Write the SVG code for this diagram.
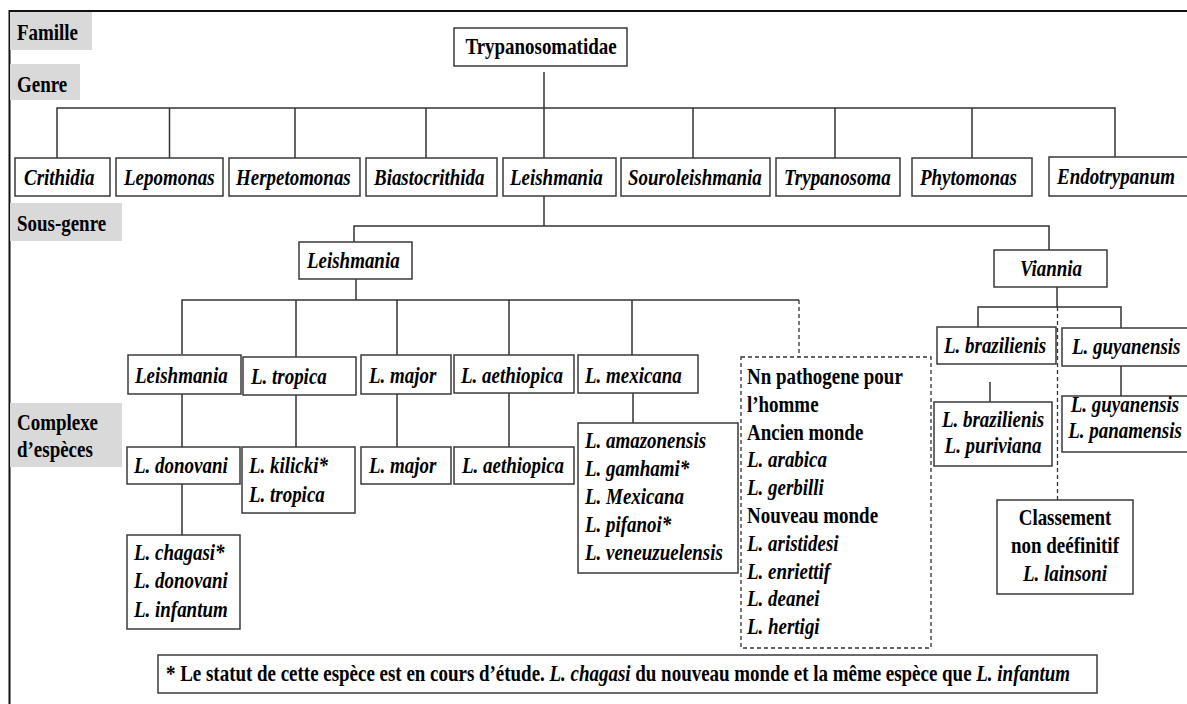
<svg xmlns="http://www.w3.org/2000/svg" width="1187" height="704" viewBox="0 0 1187 704">
<style>
.bg{fill:#fff}
.lbl{fill:#d9d9d9}
.box{fill:#fff;stroke:#3a3a3a;stroke-width:1.5}
.dbox{fill:#fff;stroke:#333;stroke-width:1.3;stroke-dasharray:4 3}
.t{font-family:"Liberation Serif","Times New Roman",serif;font-size:24px;font-weight:bold;fill:#000}
.i{font-style:italic}
.m{text-anchor:middle}
.ln{fill:none;stroke:#333;stroke-width:1.5}
.dl{fill:none;stroke:#333;stroke-width:1.3;stroke-dasharray:4 3}
.frame{fill:none;stroke:#111;stroke-width:2}
</style>
<rect class="bg" x="0" y="0" width="1187" height="704"/>
<path class="frame" d="M9.5 704 V11 H1187"/>

<g id="labels">
<rect class="lbl" x="10" y="12" width="82" height="38"/>
<text class="t" transform="translate(17 40) scale(0.79 1)">Famille</text>
<rect class="lbl" x="10" y="64" width="70" height="36"/>
<text class="t" transform="translate(17 92) scale(0.79 1)">Genre</text>
<rect class="lbl" x="10" y="203" width="112" height="38"/>
<text class="t" transform="translate(17 231) scale(0.79 1)">Sous-genre</text>
<rect class="lbl" x="10" y="403" width="112" height="64"/>
<text class="t" transform="translate(17 430) scale(0.79 1)">Complexe</text>
<text class="t" transform="translate(17 457) scale(0.79 1)">d’espèces</text>
</g>

<g id="connectors">
<path class="ln" d="M544 72 V108"/>
<path class="ln" d="M57 158 V108 H1115 V157"/>
<path class="ln" d="M169.5 108 V158 M295 108 V158 M426 108 V158 M544 108 V158 M693 108 V158 M835 108 V158 M972 108 V158"/>
<path class="ln" d="M544 196 V226"/>
<path class="ln" d="M354 242 V226 H1049 V250"/>
<path class="ln" d="M356 279 V300"/>
<path class="ln" d="M182 354 V300 H799"/>
<path class="ln" d="M296 300 V357 M397 300 V355 M509 300 V355 M632 300 V355"/>
<path class="dl" d="M799 300 V357"/>
<path class="ln" d="M182 394 V447 M296 395 V447 M397 394 V447 M509 393 V447 M633 393 V423"/>
<path class="ln" d="M182 484 V535"/>
<path class="ln" d="M1057 287 V307"/>
<path class="ln" d="M978 327 V307 H1121 V328"/>
<path class="dl" d="M1057.5 307 V500"/>
<path class="ln" d="M990 382 V402"/>
<path class="ln" d="M1121 366 V396"/>
</g>

<g id="trypanosomatidae">
<rect class="box" x="454" y="28" width="173" height="38"/>
<text class="t m" transform="translate(541 54) scale(0.79 1)">Trypanosomatidae</text>
</g>

<g id="crithidia"><rect class="box" x="15" y="158" width="95" height="38"/><text class="t i" transform="translate(24 185) scale(0.79 1)">Crithidia</text></g>
<g id="lepomonas"><rect class="box" x="116" y="158" width="107" height="38"/><text class="t i" transform="translate(124 185) scale(0.79 1)">Lepomonas</text></g>
<g id="herpetomonas"><rect class="box" x="229" y="158" width="131" height="38"/><text class="t i" transform="translate(236 185) scale(0.79 1)">Herpetomonas</text></g>
<g id="biastocrithida"><rect class="box" x="366" y="158" width="131" height="38"/><text class="t i" transform="translate(374 185) scale(0.79 1)">Biastocrithida</text></g>
<g id="leishmania-genre"><rect class="box" x="503" y="158" width="113" height="38"/><text class="t i" transform="translate(510 185) scale(0.79 1)">Leishmania</text></g>
<g id="souroleishmania"><rect class="box" x="621" y="158" width="149" height="38"/><text class="t i" transform="translate(628 185) scale(0.79 1)">Souroleishmania</text></g>
<g id="trypanosoma"><rect class="box" x="776" y="158" width="124" height="38"/><text class="t i" transform="translate(784 185) scale(0.79 1)">Trypanosoma</text></g>
<g id="phytomonas"><rect class="box" x="912" y="158" width="120" height="38"/><text class="t i" transform="translate(920 185) scale(0.79 1)">Phytomonas</text></g>
<g id="endotrypanum"><rect class="box" x="1049" y="157" width="140" height="39"/><text class="t i" transform="translate(1057 184) scale(0.79 1)">Endotrypanum</text></g>

<g id="sg-leishmania"><rect class="box" x="299" y="242" width="113" height="37"/><text class="t i" transform="translate(307 268) scale(0.79 1)">Leishmania</text></g>
<g id="sg-viannia"><rect class="box" x="994" y="250" width="113" height="37"/><text class="t i m" transform="translate(1051 276) scale(0.79 1)">Viannia</text></g>

<g id="c-leishmania"><rect class="box" x="128" y="355" width="113" height="39"/><text class="t i" transform="translate(135 383) scale(0.79 1)">Leishmania</text></g>
<g id="c-tropica"><rect class="box" x="243" y="357" width="113" height="38"/><text class="t i" transform="translate(251 384) scale(0.79 1)">L. tropica</text></g>
<g id="c-major"><rect class="box" x="361" y="355" width="90" height="39"/><text class="t i" transform="translate(369 383) scale(0.79 1)">L. major</text></g>
<g id="c-aethiopica"><rect class="box" x="454" y="355" width="120" height="38"/><text class="t i" transform="translate(461 383) scale(0.79 1)">L. aethiopica</text></g>
<g id="c-mexicana"><rect class="box" x="578" y="355" width="120" height="38"/><text class="t i" transform="translate(585 383) scale(0.79 1)">L. mexicana</text></g>

<g id="s-donovani"><rect class="box" x="127" y="447" width="113" height="37"/><text class="t i" transform="translate(134 473) scale(0.79 1)">L. donovani</text></g>
<g id="s-tropica"><rect class="box" x="242" y="447" width="113" height="66"/><text class="t i" transform="translate(249 473) scale(0.79 1)">L. kilicki*<tspan x="0" y="29">L. tropica</tspan></text></g>
<g id="s-major"><rect class="box" x="361" y="447" width="90" height="37"/><text class="t i" transform="translate(369 473) scale(0.79 1)">L. major</text></g>
<g id="s-aethiopica"><rect class="box" x="454" y="447" width="120" height="37"/><text class="t i" transform="translate(462 473) scale(0.79 1)">L. aethiopica</text></g>
<g id="s-mexicana"><rect class="box" x="578" y="423" width="160" height="150"/><text class="t i" transform="translate(585 448) scale(0.79 1)">L. amazonensis<tspan x="0" y="28">L. gamhami*</tspan><tspan x="0" y="56">L. Mexicana</tspan><tspan x="0" y="84">L. pifanoi*</tspan><tspan x="0" y="112">L. veneuzuelensis</tspan></text></g>
<g id="s-chagasi"><rect class="box" x="127" y="535" width="113" height="94"/><text class="t i" transform="translate(134 560) scale(0.79 1)">L. chagasi*<tspan x="0" y="28.5">L. donovani</tspan><tspan x="0" y="57">L. infantum</tspan></text></g>

<g id="non-pathogene"><rect class="dbox" x="741" y="357" width="190" height="291"/>
<text class="t" transform="translate(747 384) scale(0.79 1)">Nn pathogene pour<tspan x="0" y="27.8">l’homme</tspan><tspan x="0" y="55.6">Ancien monde</tspan><tspan x="0" y="83.4" font-style="italic">L. arabica</tspan><tspan x="0" y="111.2" font-style="italic">L. gerbilli</tspan><tspan x="0" y="139">Nouveau monde</tspan><tspan x="0" y="166.8" font-style="italic">L. aristidesi</tspan><tspan x="0" y="194.6" font-style="italic">L. enriettif</tspan><tspan x="0" y="222.4" font-style="italic">L. deanei</tspan><tspan x="0" y="250.2" font-style="italic">L. hertigi</tspan></text>
</g>

<g id="c-brazilienis"><rect class="box" x="937" y="327" width="119" height="37"/><text class="t i" transform="translate(944 353) scale(0.79 1)">L. brazilienis</text></g>
<g id="c-guyanensis"><rect class="box" x="1062" y="328" width="127" height="38"/><text class="t i" transform="translate(1072 354) scale(0.79 1)">L. guyanensis</text></g>
<g id="s-brazilienis"><rect class="box" x="934" y="402" width="118" height="64"/><text class="t i m" transform="translate(993 427) scale(0.79 1)">L. brazilienis<tspan x="0" y="26">L. puriviana</tspan></text></g>
<g id="s-guyanensis"><rect class="box" x="1062" y="396" width="127" height="56"/><text class="t i m" transform="translate(1125 412) scale(0.79 1)">L. guyanensis<tspan x="0" y="26">L. panamensis</tspan></text></g>
<g id="classement"><rect class="box" x="997" y="500" width="136" height="94"/><text class="t m" transform="translate(1065 525) scale(0.79 1)">Classement<tspan x="0" y="28">non deéfinitif</tspan><tspan x="0" y="56" font-style="italic">L. lainsoni</tspan></text></g>

<g id="footnote"><rect class="box" x="158" y="655" width="939" height="38"/>
<text class="t" transform="translate(166 681) scale(0.79 1)">* Le statut de cette espèce est en cours d’étude. <tspan font-style="italic">L.  chagasi</tspan> du nouveau monde et la même espèce que <tspan font-style="italic">L.  infantum</tspan></text>
</g>
</svg>
